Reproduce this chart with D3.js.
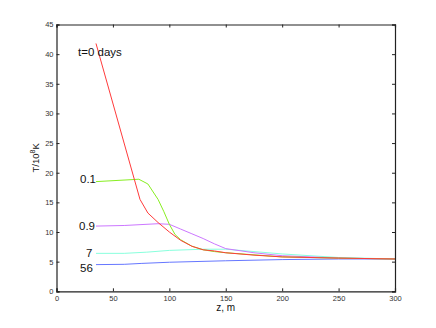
<!DOCTYPE html>
<html>
<head>
<meta charset="utf-8">
<script src="https://cdn.jsdelivr.net/npm/d3@7"></script>
<style>
  html, body { margin: 0; padding: 0; background: #fff; }
  svg { display: block; font-family: "Liberation Sans", Arial, sans-serif; }
</style>
</head>
<body>
<div id="chart"></div>
<script>
// data
const zTicks = [0, 50, 100, 150, 200, 250, 300];
const tTicks = [0, 5, 10, 15, 20, 25, 30, 35, 40, 45];

const zDay0 = [35, 74, 81, 90, 100, 110, 120, 130, 140, 150, 175, 200, 250, 300];
const tDay0 = [41.8, 15.5, 13.2, 11.6, 10.0, 8.6, 7.6, 7.0, 6.8, 6.5, 6.1, 5.8, 5.6, 5.45];

const zDay01 = [35, 73, 81, 90, 95, 100, 105, 110, 120, 130, 140, 150, 200, 250, 300];
const tDay01 = [18.5, 18.9, 18.1, 15.5, 13.5, 11.3, 9.6, 8.7, 7.6, 7.0, 6.7, 6.5, 5.8, 5.6, 5.45];

const zDay09 = [35, 60, 90, 100, 110, 120, 130, 140, 150, 175, 200, 250, 300];
const tDay09 = [11.0, 11.1, 11.4, 11.3, 10.5, 9.7, 8.9, 8.0, 7.2, 6.5, 6.0, 5.6, 5.45];

const zDay7 = [35, 60, 80, 100, 130, 150, 175, 200, 250, 300];
const tDay7 = [6.4, 6.4, 6.6, 6.9, 7.1, 7.1, 6.7, 6.3, 5.7, 5.45];

const zDay56 = [35, 60, 75, 100, 150, 200, 250, 300];
const tDay56 = [4.5, 4.55, 4.7, 4.9, 5.15, 5.35, 5.45, 5.45];

const series = [
  { name: 't=0 days', z: zDay0, t: tDay0, color: '#ff3b3b', lx: 78, ly: 56 },
  { name: '0.1', z: zDay01, t: tDay01, color: '#88ee22', lx: 80, ly: 183 },
  { name: '0.9', z: zDay09, t: tDay09, color: '#cc77ff', lx: 79, ly: 230 },
  { name: '7', z: zDay7, t: tDay7, color: '#88ffdd', lx: 86, ly: 257 },
  { name: '56', z: zDay56, t: tDay56, color: '#6677ff', lx: 80, ly: 272 }
];

const W = 436, H = 328;
const margin = { top: 24.5, right: 41, bottom: 36.7, left: 56.5 };
const width = W - margin.left - margin.right;
const height = H - margin.top - margin.bottom;

const svg = d3.select('#chart')
  .append('svg')
  .attr('width', W)
  .attr('height', H);

const chart = svg.append('g')
  .attr('transform', `translate(${margin.left}, ${margin.top})`);

const x = d3.scaleLinear().domain([0, 300]).range([0, width]);
const y = d3.scaleLinear().domain([0, 45]).range([height, 0]);

// lines
const line = d3.line()
  .x(d => x(d[0]))
  .y(d => y(d[1]));

series.slice().reverse().forEach(s => {
  chart.append('path')
    .datum(s.z.map((z, i) => [z, s.t[i]]))
    .attr('fill', 'none')
    .attr('stroke', s.color)
    .attr('stroke-width', 1)
    .attr('d', line);
});

// axes, ticks pointing inward on all four sides
const axisColor = '#222';
const tickLen = 3;

const axBottom = chart.append('g')
  .attr('transform', `translate(0, ${height})`)
  .call(d3.axisBottom(x).tickValues(zTicks).tickSize(-tickLen).tickPadding(4));
const axLeft = chart.append('g')
  .call(d3.axisLeft(y).tickValues(tTicks).tickSize(-tickLen).tickPadding(3));
const axTop = chart.append('g')
  .call(d3.axisTop(x).tickValues(zTicks).tickSize(-tickLen).tickFormat(''));
const axRight = chart.append('g')
  .attr('transform', `translate(${width}, 0)`)
  .call(d3.axisRight(y).tickValues(tTicks).tickSize(-tickLen).tickFormat(''));

[axBottom, axLeft, axTop, axRight].forEach(g => {
  g.select('.domain').attr('stroke', axisColor).attr('stroke-width', 1.2);
  g.selectAll('.tick line').attr('stroke', axisColor);
  g.selectAll('.tick text')
    .attr('fill', '#333')
    .style('font-size', '7.5px')
    .style('font-family', '"Liberation Sans", Arial, sans-serif');
});

// curve labels
series.forEach(s => {
  svg.append('text')
    .attr('x', s.lx)
    .attr('y', s.ly)
    .attr('fill', '#111')
    .style('font-size', '11.5px')
    .text(s.name);
});

// axis titles
svg.append('text')
  .attr('x', margin.left + width / 2)
  .attr('y', 311)
  .attr('text-anchor', 'middle')
  .attr('fill', '#111')
  .style('font-size', '10px')
  .text('z, m');

const ylab = svg.append('text')
  .attr('transform', `translate(39, ${margin.top + height / 2}) rotate(-90)`)
  .attr('text-anchor', 'middle')
  .attr('fill', '#111')
  .style('font-size', '9.5px');
ylab.append('tspan').text('T/10');
ylab.append('tspan').attr('dy', -4).style('font-size', '7px').text('8');
ylab.append('tspan').attr('dy', 4).text('K');
</script>
</body>
</html>
